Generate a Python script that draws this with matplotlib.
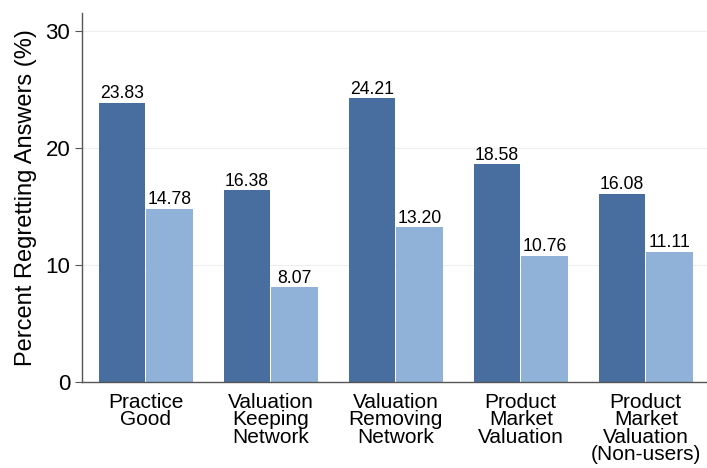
import numpy as np
import matplotlib.pyplot as plt

categories = ["Practice\nGood", "Valuation\nKeeping\nNetwork", "Valuation\nRemoving\nNetwork",
              "Product\nMarket\nValuation", "Product\nMarket\nValuation\n(Non-users)"]
dark_vals = [23.83, 16.38, 24.21, 18.58, 16.08]
light_vals = [14.78, 8.07, 13.20, 10.76, 11.11]

plt.rcParams['font.family'] = ['Liberation Sans', 'DejaVu Sans']

fig = plt.figure(figsize=(7.07, 4.68), dpi=100)
ax = fig.add_axes([0.116, 0.184, 0.884, 0.788])

x = np.arange(len(categories))
w = 0.37
off = 0.19
b1 = ax.bar(x - off, dark_vals, w, color="#476e9e")
b2 = ax.bar(x + off, light_vals, w, color="#91b2d8")

for bars, vals in ((b1, dark_vals), (b2, light_vals)):
    for b, v in zip(bars, vals):
        ax.text(b.get_x() + b.get_width() / 2, v + 0.05, "%.2f" % v,
                ha="center", va="bottom", fontsize=12.7)

ax.set_xlim(-0.51, 4.49)
ax.set_ylim(0, 31.5)
ax.set_yticks([0, 10, 20, 30])
ax.set_xticks(x)
ax.set_xticklabels(categories, fontsize=15, linespacing=0.9)
ax.tick_params(axis="x", length=0, pad=8)
ax.tick_params(axis="y", labelsize=16, length=5, color="#555555")
ax.set_ylabel("Percent Regretting Answers (%)", fontsize=17, labelpad=6)

ax.grid(axis="y", color="#eeeeee", linewidth=0.8)
ax.set_axisbelow(True)
for s in ("top", "right"):
    ax.spines[s].set_visible(False)
for s in ("left", "bottom"):
    ax.spines[s].set_color("#555555")
    ax.spines[s].set_linewidth(1.0)

fig.savefig("out.png", dpi=100)
